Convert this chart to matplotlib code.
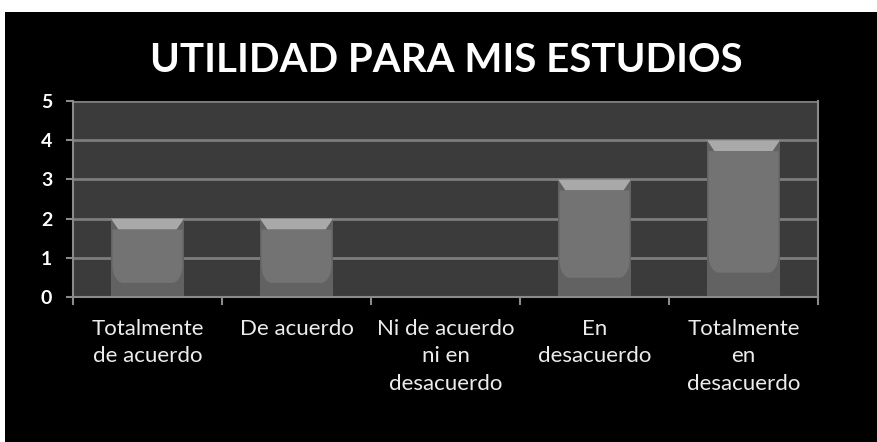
import numpy as np
import matplotlib
matplotlib.use("Agg")
import matplotlib.pyplot as plt
from matplotlib.patches import Rectangle, Polygon

title = "UTILIDAD PARA MIS ESTUDIOS"
categories = ["Totalmente\nde acuerdo", "De acuerdo", "Ni de acuerdo\nni en\ndesacuerdo",
              "En\ndesacuerdo", "Totalmente\nen\ndesacuerdo"]
values = [2, 2, 0, 3, 4]
yticks = [0, 1, 2, 3, 4, 5]

fig = plt.figure(figsize=(8.77, 4.42), dpi=100)
fig.patch.set_facecolor("white")
# black slide background, white strip on top/left
fig.patches.append(Rectangle((5 / 877, 0), 1, (442 - 12) / 442, transform=fig.transFigure,
                             facecolor="black", edgecolor="none", zorder=-10))

ax = fig.add_axes([73 / 877, 1 - 297 / 442, (818 - 73) / 877, (297 - 101) / 442])
ax.set_facecolor("#3b3b3b")

x = np.arange(len(values))
w = 0.49
ax.set_xlim(-0.5, len(values) - 0.5)
ax.set_ylim(0, 5)

for yv in yticks[1:]:
    ax.axhline(yv, color="#7d7d7d", lw=2, zorder=1)

bars = ax.bar(x, values, width=w, color="#626262", zorder=2)
for b, h in zip(bars, values):
    if h <= 0:
        continue
    x0 = b.get_x()
    x1 = x0 + b.get_width()
    bev = 0.28
    dx = 0.05
    # top light bevel
    ax.add_patch(Polygon([(x0, h), (x1, h), (x1 - dx, h - bev), (x0 + dx, h - bev)],
                         closed=True, facecolor="#a9a9a9", edgecolor="none", zorder=3))
    # inner lighter body with rounded bottom
    yb = 0.13 * h + 0.1
    rx, ry = 0.07, 0.45
    t = np.linspace(0, np.pi / 2, 12)
    left = [(x0 + 0.01 + rx - rx * np.cos(a), yb + ry - ry * np.sin(a)) for a in t]
    right = [(x1 - 0.01 - rx + rx * np.cos(a), yb + ry - ry * np.sin(a)) for a in t[::-1]]
    pts = [(x0 + 0.01, h - bev)] + left + right + [(x1 - 0.01, h - bev)]
    ax.add_patch(Polygon(pts, closed=True, facecolor="#737373", edgecolor="none", zorder=3))

ax.spines["top"].set_visible(False)
for s in ["left", "bottom", "right"]:
    ax.spines[s].set_color("#8a8a8a")
    ax.spines[s].set_linewidth(1.5)

ax.set_yticks(yticks)
ax.set_yticklabels([str(v) for v in yticks], color="white", fontsize=14,
                   fontweight="bold", family="Lato")
ax.tick_params(axis="y", length=5, color="#8a8a8a", width=1.5, pad=10)

ax.set_xticks(x)
ax.set_xticklabels(categories, color="#ececec", fontsize=16, family="Lato",
                   linespacing=1.45, va="top")
ax.set_xticks(np.arange(-0.5, len(values)), minor=True)
ax.tick_params(axis="x", which="major", length=0, pad=16)
ax.tick_params(axis="x", which="minor", length=6, color="#8a8a8a", width=1.5)

fig.text(0.509, 1 - 61 / 442, title, color="white", fontsize=29, fontweight="bold",
         family="Lato", ha="center", va="center")

fig.savefig("out.png", dpi=100, facecolor=fig.get_facecolor())
